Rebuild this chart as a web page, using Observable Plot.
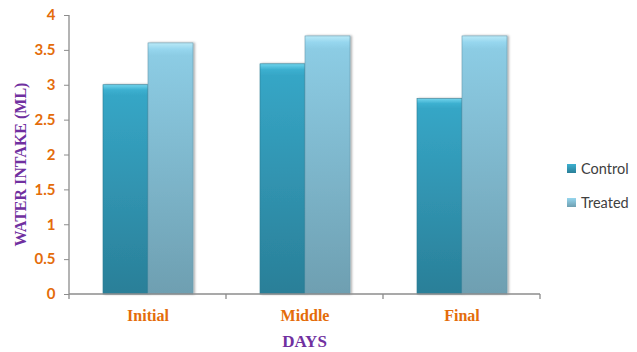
<!DOCTYPE html>
<html>
<head>
<meta charset="utf-8">
<script src="https://cdn.jsdelivr.net/npm/d3@7"></script>
<script src="https://cdn.jsdelivr.net/npm/@observablehq/plot@0.6"></script>
<style>
  html, body { margin: 0; padding: 0; background: #fff; }
  #wrap { position: relative; width: 637px; height: 352px; }
  svg { overflow: visible; }
  [aria-label="y-axis tick label"] text { fill: #e46c0a; font: bold 15px Lato, sans-serif; }
  [aria-label="fx-axis tick label"] text { fill: #e46c0a; font: bold 16px "Liberation Serif", serif; }
  .title { fill: #7030a0; font: bold 16px "Liberation Serif", serif; }
  #legend { position: absolute; left: 567px; top: 158px; font: 14.5px Lato, sans-serif; color: #404040; }
  #legend div { display: flex; align-items: center; height: 20px; margin-bottom: 14px; }
  #legend span.sw { width: 9px; height: 9px; margin-right: 5px; display: inline-block; }
</style>
</head>
<body>
<div id="wrap"></div>
<script>
const days = ["Initial", "Middle", "Final"];
const series = ["Control", "Treated"];
const controlValues = [3.0, 3.3, 2.8];
const treatedValues = [3.6, 3.7, 3.7];
const yTicks = [0, 0.5, 1, 1.5, 2, 2.5, 3, 3.5, 4];
const yTitle = "WATER INTAKE (ML)";
const xTitle = "DAYS";

const data = [];
days.forEach((d, i) => {
  data.push({day: d, series: "Control", value: controlValues[i]});
  data.push({day: d, series: "Treated", value: treatedValues[i]});
});

const defs = () => {
  const g = d3.create("svg:defs");
  const mk = (id, stops) => {
    const lg = g.append("linearGradient").attr("id", id).attr("x1", 0).attr("x2", 0).attr("y1", 0).attr("y2", 1);
    stops.forEach(([o, c]) => lg.append("stop").attr("offset", o).attr("stop-color", c));
  };
  mk("gc", [[0, "#6fd3ec"], [0.025, "#3cb0d0"], [0.05, "#36a6c6"], [1, "#2a7f98"]]);
  mk("gt", [[0, "#b9e9f7"], [0.025, "#96d6ee"], [0.05, "#8ccce4"], [1, "#6e9fb1"]]);
  const f = g.append("filter").attr("id", "sh").attr("x", "-20%").attr("y", "-5%").attr("width", "140%").attr("height", "110%");
  f.append("feDropShadow").attr("dx", 1.5).attr("dy", 0).attr("stdDeviation", 1.2).attr("flood-color", "#000").attr("flood-opacity", 0.35);
  return g.node();
};

const chart = Plot.plot({
  width: 637,
  height: 352,
  marginLeft: 68,
  marginRight: 96,
  marginTop: 15,
  marginBottom: 58,
  style: {background: "transparent"},
  fx: {domain: days, padding: 0, label: null, tickSize: 0, tickPadding: 15},
  x: {domain: series, paddingInner: 0, paddingOuter: 0.73, axis: null},
  y: {domain: [0, 4], ticks: yTicks, label: null, axis: null},
  marks: [
    defs,
    Plot.axisY(yTicks, {tickSize: 5, tickPadding: 9, stroke: "#8c8c8c", tickFormat: d => String(d), facetAnchor: "left"}),
    Plot.barY(data.filter(d => d.series === "Control"), {fx: "day", x: "series", y: "value", fill: "url(#gc)", stroke: "#2a7d95", strokeWidth: 0.6, filter: null}),
    Plot.barY(data.filter(d => d.series === "Treated"), {fx: "day", x: "series", y: "value", fill: "url(#gt)", stroke: "#6a9bb0", strokeWidth: 0.6})
  ]
});

document.getElementById("wrap").appendChild(chart);

// axis lines, drawn from the chart's scales
const svg = d3.select(chart);
const fx = chart.scale("fx");
const y = chart.scale("y");
const x0 = fx.apply(days[0]);
const xEnd = fx.apply(days[days.length - 1]) + fx.step;
const yb = y.apply(0), yt = y.apply(4);
svg.selectAll("g[aria-label='bar']").attr("filter", "url(#sh)");
const ax = svg.append("g").attr("stroke", "#8c8c8c").attr("stroke-width", 1.3);
ax.append("line").attr("x1", x0).attr("x2", x0).attr("y1", yt).attr("y2", yb + 5);
ax.append("line").attr("x1", x0).attr("x2", xEnd).attr("y1", yb).attr("y2", yb);
days.slice(1).map(d => fx.apply(d)).concat([xEnd]).forEach(xx => {
  ax.append("line").attr("x1", xx).attr("x2", xx).attr("y1", yb).attr("y2", yb + 5);
});
svg.append("text").attr("class", "title").attr("text-anchor", "middle")
  .attr("transform", `translate(20,${(yb + yt) / 2 + 10}) rotate(-90)`).attr("dy", "0.35em").text(yTitle);
svg.append("text").attr("class", "title").attr("text-anchor", "middle").style("font-size", "17px")
  .attr("x", (x0 + xEnd) / 2).attr("y", yb + 47).attr("dy", "0.35em").text(xTitle);

// legend
const legend = d3.select("#wrap").append("div").attr("id", "legend");
const sw = {Control: "linear-gradient(#3cb0d0, #2a7f98)", Treated: "linear-gradient(#96d6ee, #6e9fb1)"};
series.forEach(s => {
  const row = legend.append("div");
  row.append("span").attr("class", "sw").style("background", sw[s]);
  row.append("span").text(s);
});
</script>
</body>
</html>
